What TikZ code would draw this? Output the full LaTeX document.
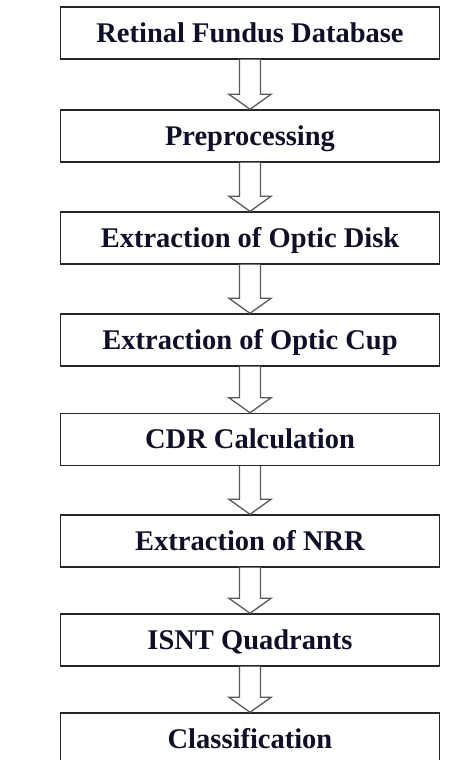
\documentclass[tikz,border=0pt]{standalone}
\usepackage{fontspec}
\setmainfont{Liberation Serif}
\usetikzlibrary{calc}
\definecolor{txt}{RGB}{15,15,40}
\tikzset{
  stepbox/.style={draw=black!85, line width=1.4pt, fill=white, minimum width=379pt,
    minimum height=52pt, inner sep=0pt, text height=18.5pt, text depth=0pt,
    text=txt, font=\fontsize{28.5}{31}\selectfont\bfseries},
  blockarrow/.style={draw=black!65, line width=1.3pt, fill=white, line join=miter}
}
\newcommand{\blockarr}[2]{%
  \draw[blockarrow] ($(#1.south)+(-10.5,0)$) -- ($(#2.north)+(-10.5,-15)$)
    -- ($(#2.north)+(-21,-15)$) -- (#2.north) -- ($(#2.north)+(21,-15)$)
    -- ($(#2.north)+(10.5,-15)$) -- ($(#1.south)+(10.5,0)$);}
\begin{document}
\begin{tikzpicture}[x=1pt,y=-1pt]
\useasboundingbox (0,0) rectangle (473,760);
\clip (0,0) rectangle (473,760);
\node[stepbox] (b1) at (250,33) {Retinal Fundus Database};
\node[stepbox] (b2) at (250,136) {Preprocessing};
\node[stepbox] (b3) at (250,238) {Extraction of Optic Disk};
\node[stepbox] (b4) at (250,340) {Extraction of Optic Cup};
\node[stepbox] (b5) at (250,439.5) {CDR Calculation};
\node[stepbox] (b6) at (250,541) {Extraction of NRR};
\node[stepbox] (b7) at (250,640) {ISNT Quadrants};
\node[stepbox] (b8) at (250,739) {Classification};
\blockarr{b1}{b2}
\blockarr{b2}{b3}
\blockarr{b3}{b4}
\blockarr{b4}{b5}
\blockarr{b5}{b6}
\blockarr{b6}{b7}
\blockarr{b7}{b8}
\end{tikzpicture}
\end{document}
